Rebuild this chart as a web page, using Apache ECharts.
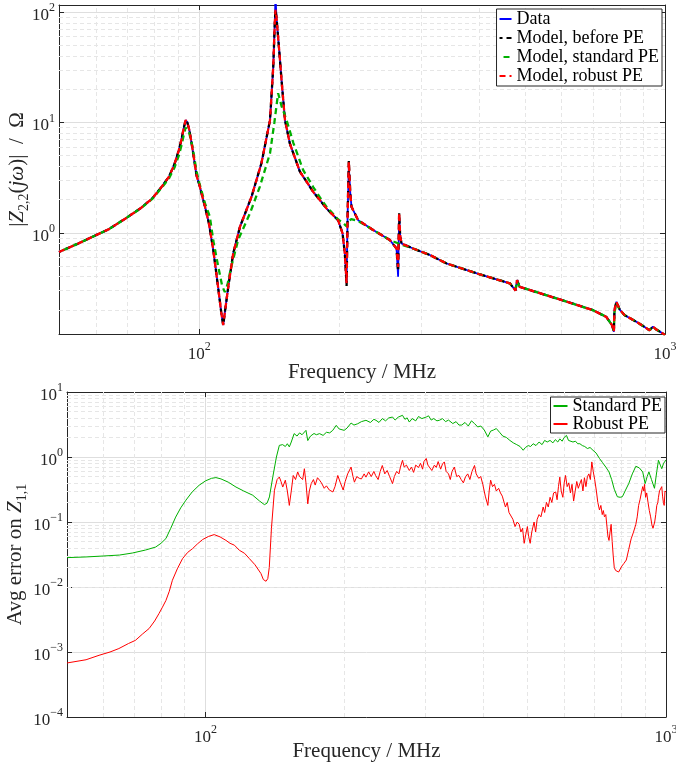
<!DOCTYPE html>
<html><head><meta charset="utf-8">
<script src="https://cdn.jsdelivr.net/npm/echarts@6/dist/echarts.min.js"></script>
<style>html,body{margin:0;padding:0;background:#fff}#c{width:676px;height:767px}</style>
</head><body><div id="c"></div>
<script>
// ---------- DATA ----------
// Top panel: |Z22| in Ohm vs frequency in MHz
const dataPts = [[50,0.67],[55,0.80],[59,0.92],[64,1.08],[69.5,1.35],[75,1.68],[79.3,2.05],[83,2.6],[86.1,3.22],[88.5,4.2],[90.4,5.6],[91.6,7.0],[92.6,8.8],[93.5,10.5],[94.3,10.0],[95.2,8.6],[96.6,6.0],[98.7,3.3],[100,2.75],[102.9,1.72],[104.9,1.22],[107.2,0.70],[109.8,0.32],[111.5,0.19],[112.6,0.146],[113.7,0.2],[115.4,0.32],[118.3,0.65],[122.3,1.13],[129.5,2.12],[136,4.26],[141.9,10.5],[144.2,32],[145.3,80],[145.8,140],[146.5,90],[148.5,45],[150.5,22],[152.8,10.5],[156.5,6.46],[164.4,3.6],[175.7,2.35],[181.5,1.98],[187.7,1.66],[198.7,1.30],[203.1,0.99],[205.4,0.65],[207.2,0.35],[208.3,1.5],[209.5,4.0],[211,2.3],[212.3,1.72],[219.4,1.30],[236.3,1.06],[256.6,0.86],[265.2,0.72],[267.3,0.40],[268.7,1.4],[270,0.95],[271.8,0.80],[287.9,0.72],[312.6,0.63],[339.8,0.527],[400.5,0.42],[464.5,0.348],[477.5,0.30],[481.3,0.372],[487.5,0.324],[594,0.249],[700.6,0.199],[748,0.173],[770,0.145],[776.7,0.127],[779,0.2],[786.6,0.237],[800,0.2],[819.3,0.179],[868.2,0.156],[926.8,0.131],[942,0.141],[960,0.132],[990,0.122],[1000,0.118]];
const beforePts = [[50,0.67],[55,0.80],[59,0.92],[64,1.08],[69.5,1.35],[75,1.68],[79.3,2.05],[83,2.6],[86.1,3.22],[88.5,4.2],[90.4,5.6],[91.6,7.0],[92.6,8.8],[93.5,10.5],[94.3,10.0],[95.2,8.6],[96.6,6.0],[98.7,3.3],[100,2.75],[102.9,1.72],[104.9,1.22],[107.2,0.70],[109.8,0.32],[111.5,0.19],[112.6,0.146],[113.7,0.2],[115.4,0.32],[118.3,0.65],[122.3,1.13],[129.5,2.12],[136,4.26],[141.9,10.5],[144.2,32],[145.3,80],[145.8,105],[146.5,90],[148.5,45],[150.5,22],[152.8,10.5],[156.5,6.46],[164.4,3.6],[175.7,2.35],[181.5,1.98],[187.7,1.66],[198.7,1.30],[203.1,0.99],[205.4,0.65],[207.2,0.33],[208.3,1.5],[209.5,4.5],[211,2.3],[212.3,1.72],[219.4,1.30],[236.3,1.06],[256.6,0.86],[265.2,0.72],[267.3,0.45],[268.7,1.5],[270,0.95],[271.8,0.80],[287.9,0.72],[312.6,0.63],[339.8,0.527],[400.5,0.42],[464.5,0.348],[477.5,0.30],[481.3,0.372],[487.5,0.324],[594,0.249],[700.6,0.199],[748,0.173],[770,0.145],[776.7,0.127],[779,0.2],[786.6,0.237],[800,0.2],[819.3,0.179],[868.2,0.156],[926.8,0.131],[942,0.141],[960,0.132],[990,0.122],[1000,0.118]];
const standardPts = [[50,0.67],[55,0.80],[59,0.92],[64,1.08],[69.5,1.35],[75,1.67],[79.3,2.03],[83,2.55],[86.1,3.1],[88.5,3.9],[90.4,5.0],[91.6,6.2],[92.6,7.6],[93.5,9.0],[94.3,8.8],[95.2,8.0],[96.6,6.2],[98.7,3.6],[100,2.85],[102.9,1.85],[105.4,1.4],[107.2,0.85],[109.8,0.50],[112,0.33],[113.5,0.29],[115,0.34],[117,0.48],[121.2,0.86],[128.5,1.5],[134.9,2.61],[141.9,5.25],[145,10],[147.7,18.4],[150.3,14],[154,10.5],[159.3,6.5],[167.2,3.7],[175.7,2.6],[181.5,2.1],[187.7,1.72],[198.7,1.32],[204,1.22],[207,1.15],[209.5,1.28],[212,1.33],[219.4,1.28],[236.3,1.06],[256.6,0.86],[262,0.83],[268,0.80],[272,0.78],[287.9,0.72],[312.6,0.63],[339.8,0.527],[400.5,0.42],[464.5,0.348],[477.5,0.31],[481.3,0.36],[487.5,0.324],[594,0.249],[700.6,0.199],[748,0.173],[770,0.145],[776.7,0.13],[779,0.19],[786.6,0.23],[800,0.2],[819.3,0.179],[868.2,0.156],[926.8,0.131],[942,0.141],[960,0.132],[990,0.122],[1000,0.118]];
const robustPts = [[50,0.67],[55,0.80],[59,0.92],[64,1.08],[69.5,1.35],[75,1.68],[79.3,2.05],[83,2.6],[86.1,3.22],[88.5,4.2],[90.4,5.6],[91.6,7.0],[92.6,8.8],[93.5,10.5],[94.3,10.0],[95.2,8.6],[96.6,6.0],[98.7,3.3],[100,2.75],[102.9,1.72],[104.9,1.22],[107.2,0.70],[109.8,0.32],[111.5,0.19],[112.6,0.146],[113.7,0.2],[115.4,0.32],[118.3,0.65],[122.3,1.13],[129.5,2.12],[136,4.26],[141.9,10.5],[144.2,32],[145.3,80],[145.8,105],[146.5,90],[148.5,45],[150.5,22],[152.8,10.5],[156.5,6.46],[164.4,3.6],[175.7,2.35],[181.5,1.98],[187.7,1.66],[198.7,1.30],[203.1,0.99],[205.4,0.65],[207.2,0.35],[208.3,1.5],[209.5,4.4],[211,2.3],[212.3,1.72],[219.4,1.30],[236.3,1.06],[256.6,0.86],[265.2,0.72],[267.3,0.49],[268.7,1.52],[270,0.95],[271.8,0.80],[287.9,0.72],[312.6,0.63],[339.8,0.527],[400.5,0.42],[464.5,0.348],[477.5,0.30],[481.3,0.372],[487.5,0.324],[594,0.249],[700.6,0.199],[748,0.173],[770,0.145],[776.7,0.127],[779,0.2],[786.6,0.237],[800,0.2],[819.3,0.179],[868.2,0.156],[926.8,0.131],[942,0.141],[960,0.132],[990,0.122],[1000,0.118]];

// Bottom panel: average error on Z11
const stdErrPts = [[50,0.0283],[55,0.029],[60,0.030],[65,0.031],[69.3,0.0333],[74,0.037],[77.9,0.0412],[80,0.047],[82,0.0556],[84,0.08],[86.1,0.119],[88.3,0.165],[90.6,0.216],[93.5,0.29],[96.8,0.367],[100,0.43],[103,0.47],[105.3,0.482],[108,0.46],[112,0.41],[116.4,0.345],[121,0.30],[126.6,0.258],[131,0.21],[134.2,0.185],[136,0.195],[137.6,0.243],[140,0.5],[142.5,1.0],[144.6,1.51],[147,1.55],[149,1.45],[150.5,1.6],[152,1.43],[153.5,1.7],[155.7,2.29],[158,2.1],[160,2.35],[162,2.2],[165.2,2.57],[166.7,1.79],[169,2.1],[172,2.3],[174,2.2],[176.8,2.29],[180,2.15],[183,2.4],[186,2.35],[188.9,2.57],[192.2,3.07],[195,2.7],[200,2.57],[203,2.8],[207,3.33],[210,3.1],[214,3.25],[218,3.5],[223,3.67],[228,3.4],[232,3.8],[234.5,3.67],[238,3.4],[242,3.9],[246,3.6],[250,4.0],[254.7,4.12],[258,3.7],[262,4.1],[267.7,4.38],[271,3.8],[274,4.0],[277,3.45],[281,3.9],[286,3.6],[290,4.2],[295,3.9],[301.4,4.12],[305,4.3],[309,3.7],[313,3.9],[318,3.6],[322,3.67],[327,3.9],[332,3.5],[337,3.7],[344.3,3.27],[350,3.5],[355,3.1],[360,3.1],[366,3.4],[372,3.0],[378,3.6],[383.8,3.27],[390,2.9],[396,3.0],[403,2.6],[410.3,2.04],[416,2.5],[422,2.6],[428,2.74],[435,2.4],[442,2.1],[450,2.0],[458,1.8],[466,1.65],[474,1.55],[482,1.45],[489.6,1.27],[495,1.4],[502,1.5],[508,1.45],[514.6,1.6],[522,1.5],[530,1.7],[538,1.55],[545,1.8],[552,1.7],[560,1.8],[568,1.65],[575,1.85],[582,1.7],[588,1.9],[595,1.75],[601,2.0],[608,2.15],[614,1.8],[620,1.9],[628,1.7],[636,1.75],[643,1.6],[650,1.6],[658,1.5],[666,1.45],[675,1.35],[684,1.4],[694,1.27],[705,1.15],[717,0.95],[728,0.82],[740,0.7],[752,0.59],[762,0.45],[772,0.32],[784,0.245],[795,0.24],[804,0.245],[815,0.3],[830,0.39],[845,0.55],[860,0.72],[875,0.68],[890,0.59],[901,0.39],[910,0.5],[918,0.59],[930,0.45],[944,0.33],[955,0.6],[963,0.89],[972,0.75],[979,0.66],[988,0.8],[997,0.84],[1000,0.9]];
const robErrPts = [[50,0.000678],[55,0.00076],[58.7,0.00089],[62,0.001],[64.8,0.00113],[68,0.00135],[70.4,0.00151],[73,0.0019],[75.4,0.0023],[77.5,0.003],[79.2,0.0039],[80.6,0.0049],[82,0.0062],[83.4,0.0086],[84.7,0.0127],[86.8,0.019],[89.1,0.0273],[91.4,0.034],[93.7,0.039],[96,0.046],[98.5,0.0537],[101.5,0.06],[104.4,0.064],[107.5,0.059],[110.7,0.0522],[113,0.047],[115.5,0.044],[118.4,0.0367],[121.5,0.033],[124.5,0.0273],[128,0.022],[131.9,0.0161],[133.5,0.013],[135.3,0.01225],[136.5,0.0135],[137.5,0.02],[139,0.08],[141.1,0.308],[143,0.45],[144.6,0.492],[145.8,0.42],[147.1,0.345],[149,0.44],[150.5,0.3],[152,0.18],[153.5,0.3],[155,0.52],[156.8,0.45],[158.5,0.59],[160,0.5],[161,0.52],[162.5,0.45],[163.9,0.66],[165.2,0.4],[166.7,0.19],[168,0.3],[169.6,0.39],[171.5,0.45],[173,0.37],[175,0.48],[176.8,0.44],[178.5,0.4],[181,0.33],[183,0.36],[185.7,0.31],[187.5,0.3],[189,0.29],[191,0.35],[193.7,0.52],[196,0.41],[199,0.31],[201,0.42],[203.5,0.55],[207,0.70],[209,0.5],[210.5,0.41],[213,0.5],[215.7,0.47],[218,0.46],[221,0.55],[223,0.49],[226,0.59],[229,0.5],[232,0.6],[234,0.52],[237,0.45],[239.5,0.6],[242,0.74],[245,0.55],[248,0.62],[251,0.5],[254.7,0.39],[257,0.5],[260,0.6],[263,0.55],[265,0.7],[267.7,0.89],[270,0.7],[273,0.75],[277,0.62],[280,0.7],[283,0.58],[286,0.75],[290,0.69],[293,0.8],[296,0.65],[298,0.85],[301.4,0.95],[304,0.75],[307,0.8],[310,0.62],[314,0.75],[317,0.69],[320,0.85],[324,0.65],[327,0.78],[330,0.84],[333,0.6],[337,0.55],[340,0.45],[343,0.6],[347,0.7],[351,0.5],[355,0.52],[359,0.45],[363,0.40],[367,0.5],[371,0.55],[375,0.45],[379,0.6],[383.8,0.74],[387,0.55],[392,0.47],[396,0.5],[400,0.38],[405,0.25],[410.3,0.18],[413,0.3],[416,0.44],[420,0.35],[424,0.38],[428,0.3],[433,0.33],[437,0.28],[441,0.25],[445,0.2],[448,0.17],[452,0.2],[456,0.14],[460,0.15],[465,0.11],[470,0.085],[475,0.1],[480,0.092],[484,0.07],[488,0.08],[492,0.047],[496,0.065],[500,0.085],[503,0.06],[507,0.047],[511,0.07],[517,0.10],[521,0.07],[525,0.11],[530,0.13],[535,0.12],[541,0.17],[545,0.14],[550,0.2],[555,0.17],[560,0.24],[565,0.2],[570,0.28],[576,0.29],[580,0.22],[584,0.35],[588,0.49],[592,0.3],[597,0.24],[601,0.4],[605,0.52],[610,0.35],[615,0.4],[620,0.28],[625,0.38],[630,0.21],[635,0.3],[640,0.42],[645,0.33],[650,0.39],[655,0.45],[660,0.3],[665,0.48],[670,0.35],[675,0.5],[680,0.55],[685,0.45],[690,0.84],[695,0.6],[700,0.45],[706,0.3],[711,0.2],[717,0.153],[722,0.18],[727,0.13],[731,0.15],[735,0.12],[740,0.13],[745,0.08],[748,0.06],[752,0.052],[756,0.07],[760,0.092],[764,0.05],[768,0.03],[772,0.02],[777,0.018],[783,0.019],[789,0.017],[795,0.018],[802,0.021],[810,0.023],[820,0.026],[830,0.038],[840,0.055],[850,0.07],[860,0.092],[866,0.12],[872,0.18],[878,0.22],[884,0.28],[890,0.35],[895,0.3],[898,0.38],[903,0.24],[908,0.28],[914,0.2],[920,0.15],[926,0.12],[932,0.09],[937,0.08],[940,0.079],[945,0.1],[950,0.13],[955,0.18],[960,0.2],[963,0.24],[968,0.3],[973,0.28],[979,0.35],[983,0.25],[987,0.2],[991,0.18],[995,0.3],[1000,0.29]];

// Axis ranges and grid-line positions
const freqRange = [50, 1000];
const topYRange = [0.121, 116];
const botYRange = [1e-4, 10];
const xMinor = [60,70,80,90,200,300,400,500,600,700,800,900];
const yMinorTop = [0.2,0.3,0.4,0.5,0.6,0.7,0.8,0.9,2,3,4,5,6,7,8,9,20,30,40,50,60,70,80,90];
const yMinorBot = [2e-4,3e-4,4e-4,5e-4,6e-4,7e-4,8e-4,9e-4,2e-3,3e-3,4e-3,5e-3,6e-3,7e-3,8e-3,9e-3,0.02,0.03,0.04,0.05,0.06,0.07,0.08,0.09,0.2,0.3,0.4,0.5,0.6,0.7,0.8,0.9,2,3,4,5,6,7,8,9];

// ---------- CHART ----------
const FONT = '"Liberation Serif", "DejaVu Serif", serif';
const AX = '#262626';
const richTick = {
  b: {fontFamily: FONT, fontSize: 17, color: AX, lineHeight: 24, verticalAlign: 'bottom'},
  s: {fontFamily: FONT, fontSize: 12, color: AX, verticalAlign: 'top', padding: [2, 0, 0, 0]}
};
function powLabel(v) {
  const e = Math.log10(v), r = Math.round(e);
  if (Math.abs(e - r) > 1e-6) return '';
  return '{b|10}{s|' + (r < 0 ? '\u2212' + (-r) : r) + '}';
}
const nameRich = {
  i: {fontFamily: FONT, fontSize: 21, fontStyle: 'italic', color: AX, lineHeight: 28},
  subr: {fontFamily: FONT, fontSize: 14, color: AX, verticalAlign: 'bottom'}
};
const nameStyle = {fontFamily: FONT, fontSize: 21, color: AX, lineHeight: 28, rich: nameRich};

function mainX(grid, gap) {
  return {type: 'log', logBase: 10, gridIndex: grid, min: freqRange[0], max: freqRange[1],
    axisLine: {show: true, onZero: false, lineStyle: {color: AX, width: 1}},
    axisTick: {show: true, inside: true, length: 5, lineStyle: {color: AX}},
    axisLabel: {formatter: powLabel, rich: richTick, margin: 5, showMinLabel: false},
    splitLine: {show: true, lineStyle: {color: '#dedede', width: 1}},
    name: 'Frequency / MHz', nameLocation: 'middle', nameGap: gap, nameMoveOverlap: false,
    nameTextStyle: {fontFamily: FONT, fontSize: 21, color: AX}};
}
function boxX(grid) {
  return {type: 'log', logBase: 10, gridIndex: grid, position: 'top', min: freqRange[0], max: freqRange[1],
    axisLine: {show: true, onZero: false, lineStyle: {color: AX}},
    axisTick: {show: true, inside: true, length: 5, lineStyle: {color: AX}},
    axisLabel: {show: false}, splitLine: {show: false}};
}
function mainY(grid, range, name, gap) {
  return {type: 'log', logBase: 10, gridIndex: grid, min: range[0], max: range[1],
    axisLine: {show: true, onZero: false, lineStyle: {color: AX}},
    axisTick: {show: true, inside: true, length: 5, lineStyle: {color: AX}},
    axisLabel: {formatter: powLabel, rich: richTick, margin: 4},
    splitLine: {show: true, lineStyle: {color: '#dedede', width: 1}},
    name: name, nameLocation: 'middle', nameGap: gap, nameMoveOverlap: false, nameTextStyle: nameStyle};
}
function boxY(grid, range) {
  return {type: 'log', logBase: 10, gridIndex: grid, position: 'right', min: range[0], max: range[1],
    axisLine: {show: true, onZero: false, lineStyle: {color: AX}},
    axisTick: {show: true, inside: true, length: 5, lineStyle: {color: AX}},
    axisLabel: {show: false}, splitLine: {show: false}};
}
function minorGrid(yVals) {
  return {silent: true, symbol: ['none', 'none'], z: 1, animation: false,
    label: {show: false}, emphasis: {disabled: true},
    lineStyle: {color: '#e6e6e6', width: 1, type: [4, 3]},
    data: xMinor.map(v => ({xAxis: v})).concat(yVals.map(v => ({yAxis: v})))};
}
function lineSeries(name, pts, xi, yi, color, width, dash, offset, extra) {
  const s = {name: name, type: 'line', xAxisIndex: xi, yAxisIndex: yi, data: pts,
    symbol: 'none', showSymbol: false, clip: true, animation: false, z: 2,
    itemStyle: {color: color},
    lineStyle: {color: color, width: width, type: dash || 'solid', dashOffset: offset || 0}};
  return Object.assign(s, extra || {});
}

const chart = echarts.init(document.getElementById('c'), null, {renderer: 'canvas'});
chart.setOption({
  animation: false,
  backgroundColor: '#ffffff',
  grid: [
    {left: 59, right: 11, top: 5, height: 329, containLabel: false, outerBoundsMode: 'none'},
    {left: 67, right: 10, top: 392, height: 325, containLabel: false, outerBoundsMode: 'none'}
  ],
  xAxis: [mainX(0, 28), boxX(0), mainX(1, 24), boxX(1)],
  yAxis: [
    mainY(0, topYRange, '|{i|Z}{subr|2,2}({i|j\u03C9})|  /  \u03A9', 28),
    boxY(0, topYRange),
    mainY(1, botYRange, 'Avg error on {i|Z}{subr|1,1}', 38),
    boxY(1, botYRange)
  ],
  legend: [
    {data: ['Data', 'Model, before PE', 'Model, standard PE', 'Model, robust PE'],
     orient: 'vertical', right: 14, top: 9, padding: [1, 3, 1, 2], itemGap: 1,
     itemWidth: 12, itemHeight: 12, itemStyle: {opacity: 0}, backgroundColor: '#fff', borderColor: AX, borderWidth: 1,
     textStyle: {fontFamily: FONT, fontSize: 18, color: '#000', lineHeight: 18}},
    {data: ['Standard PE', 'Robust PE'],
     orient: 'vertical', right: 11, top: 397, padding: [0, 3, 0, 2], itemGap: 0,
     itemWidth: 14, itemHeight: 12, itemStyle: {opacity: 0}, backgroundColor: '#fff', borderColor: AX, borderWidth: 1,
     textStyle: {fontFamily: FONT, fontSize: 18, color: '#000', lineHeight: 18}}
  ],
  series: [
    lineSeries('Data', dataPts, 0, 0, '#0000ff', 1.8, 'solid', 0, {markLine: minorGrid(yMinorTop)}),
    lineSeries('Model, before PE', beforePts, 0, 0, '#000000', 2.3, [6, 4], 3),
    lineSeries('Model, standard PE', standardPts, 0, 0, '#00b000', 2.3, [6, 4], 6),
    lineSeries('Model, robust PE', robustPts, 0, 0, '#ff0000', 2.3, [6, 4], 0),
    lineSeries('Standard PE', stdErrPts, 2, 2, '#00b000', 1, 'solid', 0, {markLine: minorGrid(yMinorBot)}),
    lineSeries('Robust PE', robErrPts, 2, 2, '#ff0000', 1, 'solid', 0)
  ]
});
</script></body></html>
